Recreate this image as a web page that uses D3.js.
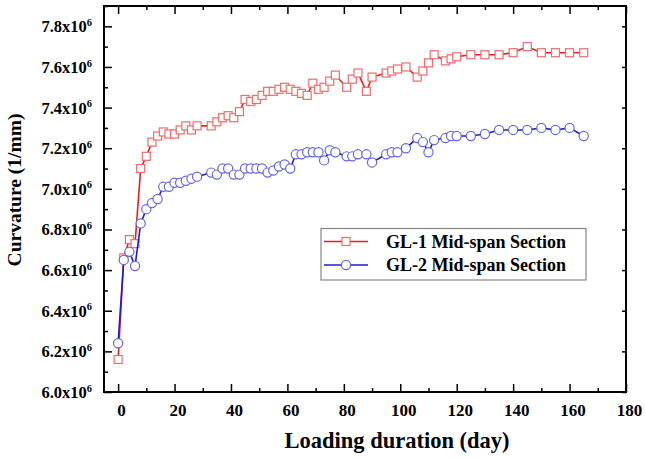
<!DOCTYPE html>
<html>
<head>
<meta charset="utf-8">
<script src="https://cdn.jsdelivr.net/npm/d3@7"></script>
<style>
  body { margin: 0; background: #fff; }
  svg { display: block; font-family: "Liberation Serif", "Times New Roman", serif; font-weight: bold; }
</style>
</head>
<body>
<div id="chart"></div>
<script>
// loading duration (day), shared by both series
const days = [0, 2, 4, 6, 8, 10, 12, 14, 16, 18, 20, 22, 24, 26, 28,
  33, 35, 37, 39, 41, 43, 45, 47, 49, 51, 53, 55, 57, 59, 61, 63, 65, 67, 69, 71,
  73, 75, 77, 81, 83, 85, 88, 90, 95, 97, 99, 102, 106, 108, 110, 112, 116, 118, 120,
  125, 130, 135, 140, 145, 150, 155, 160, 165];

// curvature, in units of 10^6 (1/mm)
const gl1Curvature = [6.16, 6.66, 6.75, 6.73, 7.10, 7.16, 7.23, 7.26, 7.28, 7.27, 7.27, 7.29, 7.31, 7.29, 7.31,
  7.31, 7.33, 7.35, 7.36, 7.35, 7.38, 7.44, 7.43, 7.44, 7.46, 7.48, 7.48, 7.49, 7.50, 7.49, 7.48, 7.47, 7.46, 7.52, 7.49,
  7.50, 7.53, 7.56, 7.50, 7.54, 7.57, 7.48, 7.55, 7.57, 7.58, 7.59, 7.60, 7.55, 7.58, 7.62, 7.66, 7.63, 7.64, 7.65,
  7.66, 7.66, 7.66, 7.67, 7.70, 7.67, 7.67, 7.67, 7.67];

const gl2Curvature = [6.24, 6.65, 6.69, 6.62, 6.83, 6.90, 6.93, 6.95, 7.01, 7.01, 7.03, 7.03, 7.04, 7.05, 7.06,
  7.08, 7.07, 7.10, 7.10, 7.07, 7.07, 7.10, 7.10, 7.10, 7.10, 7.08, 7.09, 7.11, 7.12, 7.10, 7.17, 7.17, 7.18, 7.18, 7.18,
  7.14, 7.19, 7.18, 7.16, 7.16, 7.17, 7.17, 7.13, 7.17, 7.18, 7.18, 7.20, 7.25, 7.23, 7.18, 7.24, 7.25, 7.26,
  7.26, 7.26, 7.27, 7.29, 7.29, 7.29, 7.30, 7.29, 7.30, 7.26];

const seriesNames = ["GL-1 Mid-span Section", "GL-2 Mid-span Section"];
const xTicks = [0, 20, 40, 60, 80, 100, 120, 140, 160, 180];
const xMinorTicks = d3.range(10, 180, 20);
const yTicks = [6.0, 6.2, 6.4, 6.6, 6.8, 7.0, 7.2, 7.4, 7.6, 7.8];
const yMinorTicks = [6.1, 6.3, 6.5, 6.7, 6.9, 7.1, 7.3, 7.5, 7.7, 7.9];

const width = 645, height = 459;
const margin = { top: 6, right: 19, bottom: 67, left: 104 };

const svg = d3.select("#chart").append("svg")
  .attr("width", width)
  .attr("height", height);

const x = d3.scaleLinear().domain([-5, 180]).range([margin.left, width - margin.right]);
const y = d3.scaleLinear().domain([6.0, 7.9]).range([height - margin.bottom, margin.top]);

const bottomY = height - margin.bottom;

// inward ticks on all four sides
function ticks(axis, values, size) {
  return (g) => {
    g.call(axis.tickValues(values).tickSize(-size).tickFormat(""));
    g.select(".domain").remove();
    g.selectAll("line").attr("stroke", "#000").attr("stroke-width", 1.5);
  };
}
svg.append("g").attr("transform", `translate(0,${bottomY})`).call(ticks(d3.axisBottom(x), xTicks, 8));
svg.append("g").attr("transform", `translate(0,${bottomY})`).call(ticks(d3.axisBottom(x), xMinorTicks, 4));
svg.append("g").attr("transform", `translate(0,${margin.top})`).call(ticks(d3.axisTop(x), xTicks, 8));
svg.append("g").attr("transform", `translate(0,${margin.top})`).call(ticks(d3.axisTop(x), xMinorTicks, 4));
svg.append("g").attr("transform", `translate(${margin.left},0)`).call(ticks(d3.axisLeft(y), yTicks, 8));
svg.append("g").attr("transform", `translate(${margin.left},0)`).call(ticks(d3.axisLeft(y), yMinorTicks, 4));
svg.append("g").attr("transform", `translate(${width - margin.right},0)`).call(ticks(d3.axisRight(y), yTicks, 4));

// tick labels
const xLabels = svg.append("g")
  .attr("transform", `translate(3,${bottomY})`)
  .call(d3.axisBottom(x).tickValues(xTicks).tickSize(0).tickFormat(d3.format("d")));
xLabels.select(".domain").remove();
xLabels.selectAll("text")
  .attr("y", 24).attr("dy", null)
  .attr("fill", "#000")
  .style("font-size", "17px")
  .style("font-family", "Liberation Serif, serif")
  .style("font-weight", "bold");

const yLabels = svg.append("g")
  .attr("transform", `translate(${margin.left},0)`)
  .call(d3.axisLeft(y).tickValues(yTicks).tickSize(0).tickPadding(12).tickFormat(""));
yLabels.select(".domain").remove();
yLabels.selectAll("text")
  .attr("fill", "#000")
  .attr("dy", "0.33em")
  .style("font-size", "16.5px")
  .style("font-family", "Liberation Serif, serif")
  .style("font-weight", "bold")
  .each(function (d) {
    const t = d3.select(this);
    t.append("tspan").text(d.toFixed(1) + "x10");
    t.append("tspan").attr("dy", "-0.6em").style("font-size", "10.5px").text("6");
  });

// axis titles
svg.append("text")
  .attr("x", 397).attr("y", 448)
  .attr("text-anchor", "middle")
  .style("font-size", "22.5px")
  .text("Loading duration (day)");

svg.append("text")
  .attr("transform", "translate(21,190) rotate(-90)")
  .attr("text-anchor", "middle")
  .style("font-size", "19.5px")
  .text("Curvature (1/mm)");

// series
const series = [
  { name: seriesNames[0], values: gl1Curvature, line: "#e3201f", marker: "#ee6c6c", shape: "square" },
  { name: seriesNames[1], values: gl2Curvature, line: "#1d1dc9", marker: "#6767e0", shape: "circle" }
];

const line = d3.line().x((d) => x(d[0])).y((d) => y(d[1]));

function drawMarker(g, s, cx, cy) {
  if (s.shape === "square") {
    g.append("rect")
      .attr("x", cx - 4).attr("y", cy - 4)
      .attr("width", 8).attr("height", 8)
      .attr("fill", "#fff").attr("stroke", s.marker).attr("stroke-width", 1.2);
  } else {
    g.append("circle")
      .attr("cx", cx).attr("cy", cy).attr("r", 4.6)
      .attr("fill", "#fff").attr("stroke", s.marker).attr("stroke-width", 1.2);
  }
}

series.forEach((s) => {
  const pts = days.map((d, i) => [d, s.values[i]]);
  const g = svg.append("g");
  g.append("path")
    .datum(pts)
    .attr("d", line)
    .attr("fill", "none")
    .attr("stroke", s.line)
    .attr("stroke-width", 1.6);
  pts.forEach((p) => drawMarker(g, s, x(p[0]), y(p[1])));
});

// frame
svg.append("rect")
  .attr("x", margin.left).attr("y", margin.top)
  .attr("width", width - margin.left - margin.right)
  .attr("height", height - margin.top - margin.bottom)
  .attr("fill", "none")
  .attr("stroke", "#000")
  .attr("stroke-width", 2);

// legend
const legend = svg.append("g");
legend.append("rect")
  .attr("x", 321).attr("y", 228.5)
  .attr("width", 265).attr("height", 51.5)
  .attr("fill", "#fff")
  .attr("stroke", "#888")
  .attr("stroke-width", 1.2);

series.forEach((s, i) => {
  const ly = 241.5 + i * 23.5;
  legend.append("line")
    .attr("x1", 324).attr("x2", 368)
    .attr("y1", ly).attr("y2", ly)
    .attr("stroke", s.line).attr("stroke-width", 1.6);
  drawMarker(legend, s, 346, ly);
  legend.append("text")
    .attr("x", 386).attr("y", ly + 6)
    .style("font-size", "18px")
    .text(s.name);
});
</script>
</body>
</html>
